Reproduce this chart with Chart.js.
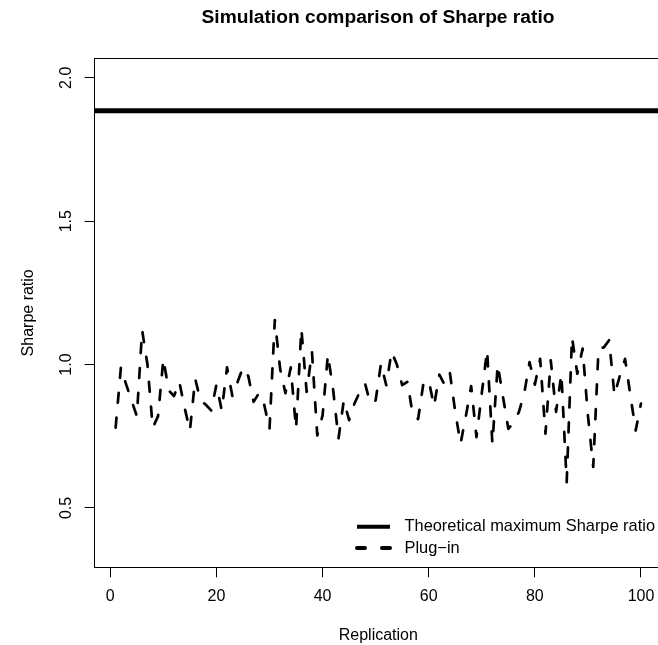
<!DOCTYPE html>
<html>
<head>
<meta charset="utf-8">
<title>Simulation comparison of Sharpe ratio</title>
<script src="https://cdn.jsdelivr.net/npm/chart.js@4.4.1/dist/chart.umd.min.js"></script>
<style>
  html, body { margin: 0; padding: 0; background: #fff; overflow: hidden; }
  #wrap { width: 658px; height: 645px; overflow: hidden; }
  canvas { display: block; }
</style>
</head>
<body>
<div id="wrap">
  <canvas id="myChart" width="756" height="645"></canvas>
</div>
<script>
// replication number on the x axis (1..100)
const replications = [...Array(100).keys()].map((i) => i + 1);

// plug-in estimate of the Sharpe ratio, one per replication
const plugInSharpe = [
  0.78, 0.99, 0.93, 0.875, 0.82, 1.12, 1.0, 0.78, 0.82, 1.02,
  0.91, 0.89, 0.94, 0.85, 0.77, 0.95, 0.875, 0.86, 0.84, 0.93,
  0.84, 0.99, 0.89, 0.94, 0.99, 0.96, 0.87, 0.90, 0.86, 0.776,
  1.155, 0.985, 0.90, 0.99, 0.776, 1.125, 0.905, 1.045, 0.753, 0.823,
  1.035, 0.91, 0.742, 0.875, 0.806, 0.864, 0.904, 0.934, 0.865, 0.875,
  1.003, 0.928, 1.045, 1.0, 0.928, 0.94, 0.823, 0.81, 0.934, 0.945,
  0.855, 0.965, 0.93, 0.97, 0.835, 0.724, 0.82, 0.925, 0.747, 0.9,
  1.05, 0.724, 1.0, 0.887, 0.776, 0.797, 0.835, 0.899, 1.009, 0.93,
  1.02, 0.759, 1.015, 0.835, 0.968, 0.59, 1.096, 0.968, 1.056, 0.823,
  0.643, 1.056, 1.06, 1.085, 0.893, 0.96, 1.02, 0.893, 0.77, 0.864
];

// the horizontal reference line
const theoreticalMax = 1.885;

// tick labels
const xTicks = [0, 20, 40, 60, 80, 100];
const yTicks = [0.5, 1.0, 1.5, 2.0];

// axis ranges (R style, 4% padding)
const xLimits = [-2.96, 103.96];
const yLimits = [0.293, 2.068];

const seriesLabels = ['Theoretical maximum Sharpe ratio', 'Plug\u2212in'];

const fontFamily = '"Liberation Sans", Arial, Helvetica, sans-serif';

// draws the full box around the plot region like R's box()
const boxPlugin = {
  id: 'plotBox',
  afterDatasetsDraw(chart) {
    const { ctx, chartArea } = chart;
    const l = Math.floor(chartArea.left) + 0.5;
    const t = Math.floor(chartArea.top) + 0.5;
    const b = Math.floor(chartArea.bottom) + 0.5;
    const r = Math.floor(chartArea.right) + 0.5;
    ctx.save();
    ctx.strokeStyle = '#000';
    ctx.lineWidth = 1;
    ctx.strokeRect(l, t, r - l, b - t);
    ctx.restore();
  }
};

// legend in the bottom right corner of the plot, no frame (bty = "n")
const rLegendPlugin = {
  id: 'rLegend',
  afterDraw(chart, args, opts) {
    const { ctx, chartArea } = chart;
    ctx.save();
    ctx.font = `${opts.fontSize}px ${fontFamily}`;
    ctx.fillStyle = '#000';
    ctx.textBaseline = 'middle';
    chart.data.datasets.forEach((ds, i) => {
      const y = chartArea.bottom - opts.rowOffsets[i];
      const x0 = chartArea.right - opts.sampleStart;
      const x1 = chartArea.right - opts.sampleEnd;
      ctx.beginPath();
      ctx.strokeStyle = ds.borderColor;
      ctx.lineWidth = opts.sampleWidths[i];
      ctx.lineCap = opts.sampleCaps[i];
      ctx.setLineDash(opts.sampleDashes[i]);
      ctx.moveTo(x0, y);
      ctx.lineTo(x1, y);
      ctx.stroke();
      ctx.setLineDash([]);
      ctx.fillText(ds.label, chartArea.right - opts.textStart, y);
    });
    ctx.restore();
  }
};

function initChart(target) {
  const data = {
    datasets: [
      {
        label: seriesLabels[0],
        data: xLimits.map((x) => ({ x: x, y: theoreticalMax })),
        borderColor: '#000',
        borderWidth: 5,
        borderCapStyle: 'butt',
        pointRadius: 0,
        fill: false
      },
      {
        label: seriesLabels[1],
        data: replications.map((r, i) => ({ x: r, y: plugInSharpe[i] })),
        borderColor: '#000',
        borderWidth: 2.7,
        borderDash: [10, 15],
        borderCapStyle: 'round',
        borderJoinStyle: 'round',
        pointRadius: 0,
        tension: 0,
        fill: false
      }
    ]
  };

  const config = {
    type: 'line',
    data: data,
    plugins: [boxPlugin, rLegendPlugin],
    options: {
      responsive: false,
      animation: false,
      events: [],
      layout: { padding: 0 },
      plugins: {
        legend: { display: false },
        tooltip: { enabled: false },
        title: {
          display: true,
          text: 'Simulation comparison of Sharpe ratio',
          color: '#000',
          font: { family: fontFamily, size: 19.2, weight: 'bold', lineHeight: 1.2 },
          padding: { top: 6.5, bottom: 28.8 }
        },
        rLegend: {
          fontSize: 16.4,
          rowOffsets: [40.6, 19.3],
          sampleStart: 305,
          sampleEnd: 272,
          textStart: 257.5,
          sampleWidths: [4, 4],
          sampleCaps: ['butt', 'round'],
          sampleDashes: [[], [8, 17]]
        }
      },
      scales: {
        x: {
          type: 'linear',
          position: 'bottom',
          min: xLimits[0],
          max: xLimits[1],
          afterBuildTicks: (scale) => { scale.ticks = xTicks.map((v) => ({ value: v })); },
          afterFit: (scale) => { scale.height = 77.7; },
          grid: { drawOnChartArea: false, drawTicks: true, tickLength: 10, color: '#000', lineWidth: 1 },
          border: { display: false },
          ticks: {
            color: '#000',
            font: { family: fontFamily, size: 16 },
            padding: 10,
            maxRotation: 0,
            autoSkip: false
          },
          title: {
            display: true,
            text: 'Replication',
            color: '#000',
            font: { family: fontFamily, size: 16, lineHeight: 1.2 },
            padding: { top: 0, bottom: 0 }
          }
        },
        y: {
          type: 'linear',
          position: 'left',
          min: yLimits[0],
          max: yLimits[1],
          afterBuildTicks: (scale) => { scale.ticks = yTicks.map((v) => ({ value: v })); },
          afterFit: (scale) => { scale.width = 94.6; },
          grid: { drawOnChartArea: false, drawTicks: true, tickLength: 10, color: '#000', lineWidth: 1 },
          border: { display: false },
          ticks: {
            color: '#000',
            font: { family: fontFamily, size: 16 },
            padding: 6.8,
            minRotation: 90,
            maxRotation: 90,
            crossAlign: 'center',
            autoSkip: false,
            callback: (value) => Number(value).toFixed(1)
          },
          title: {
            display: true,
            text: 'Sharpe ratio',
            color: '#000',
            font: { family: fontFamily, size: 16, lineHeight: 1.2 },
            padding: { top: 18.6, bottom: 0 }
          }
        },
        // empty right margin so the title centres over the plot region like R
        yRight: {
          type: 'linear',
          position: 'right',
          display: true,
          afterFit: (scale) => { scale.width = 94; },
          grid: { display: false },
          border: { display: false },
          ticks: { display: false }
        }
      }
    }
  };

  return new Chart(target, config);
}

document.addEventListener('DOMContentLoaded', () => {
  const chartTarget = document.querySelector('#myChart');
  initChart(chartTarget);
});
</script>
</body>
</html>
